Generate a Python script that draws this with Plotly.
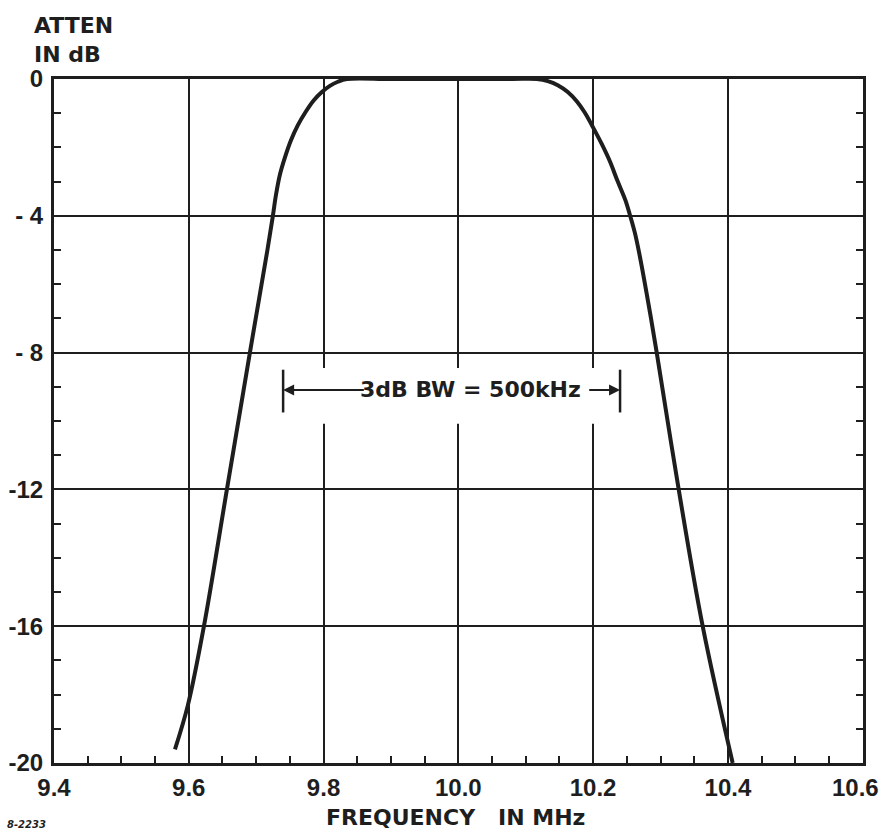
import plotly.graph_objects as go

# Filter passband response: frequency (MHz) vs attenuation (dB)
freq_mhz = [9.5795, 9.5988, 9.6225, 9.6566, 9.6907, 9.7167,
            9.7248, 9.7293, 9.7352, 9.7426, 9.7515, 9.7619, 9.7738,
            9.7856, 9.7975, 9.8094, 9.8212, 9.8346,
            9.90, 10.00, 10.08,
            10.1164, 10.1327, 10.1476, 10.1624, 10.1757, 10.1876, 10.1995,
            10.2128, 10.2247, 10.2366, 10.2480, 10.2550, 10.2620, 10.2685,
            10.2815, 10.2944, 10.3270, 10.3626, 10.4071]
atten_db = [-19.6, -18.3, -16.0, -12.0, -8.0, -5.0,
            -4.0, -3.4, -2.8, -2.3, -1.8, -1.35, -0.95,
            -0.62, -0.38, -0.2, -0.08, 0.0,
            0.0, 0.0, 0.0,
            0.0, -0.06, -0.18, -0.38, -0.65, -0.98, -1.4,
            -1.9, -2.4, -3.0, -3.55, -4.0, -4.5, -5.1,
            -6.5, -8.0, -12.0, -16.0, -20.0]

x_ticks = [9.4, 9.6, 9.8, 10.0, 10.2, 10.4]
x_tick_text = ["9.4", "9.6", "9.8", "10.0", "10.2", "10.4"]
# the right-hand end label sits on its own overlay axis, right-aligned
x_end_tick = [10.6]
x_end_tick_text = ["10.6"]
y_ticks = [0, -4, -8, -12, -16, -20]
y_tick_text = ["0", "- 4", "- 8", "-12", "-16", "-20"]

# 3 dB bandwidth marker
bw_lo, bw_hi = 9.74, 10.24
bw_level = -9.09
bw_label = "3dB BW = 500kHz"

INK = "#1e1e1e"
FONT = "DejaVu Sans"
TICK_FONT = "Liberation Sans"
X_RANGE = [9.4, 10.6005]

fig = go.Figure()
fig.add_trace(go.Scatter(
    x=freq_mhz, y=atten_db, mode="lines",
    line=dict(color=INK, width=4, shape="spline", smoothing=1.0),
    hoverinfo="skip", showlegend=False,
))
# same curve bound to the overlay axis (invisible) so that axis is drawn
fig.add_trace(go.Scatter(
    x=freq_mhz, y=atten_db, mode="lines", xaxis="x2",
    line=dict(color="rgba(0,0,0,0)", width=0),
    hoverinfo="skip", showlegend=False,
))

tick_font = dict(family=TICK_FONT, size=24, color=INK, weight="bold")
axis_common = dict(
    showline=True, linecolor=INK, linewidth=3,
    showgrid=True, gridcolor=INK, gridwidth=1.6,
    zeroline=False, ticks="inside", ticklen=7, tickwidth=2, tickcolor=INK,
    tickfont=tick_font, automargin=False,
)

fig.update_layout(
    width=881, height=835,
    margin=dict(l=54, r=18, t=79, b=72),
    paper_bgcolor="white", plot_bgcolor="white",
    xaxis=dict(
        range=X_RANGE, tickvals=x_ticks + x_end_tick,
        ticktext=x_tick_text + [""],
        mirror=True, ticklabelstandoff=1,
        minor=dict(dtick=0.05, tick0=9.4, ticks="inside", ticklen=7,
                   tickwidth=2, tickcolor=INK, showgrid=False),
        **axis_common,
    ),
    xaxis2=dict(
        range=X_RANGE, overlaying="x", side="bottom", anchor="y",
        tickvals=x_end_tick, ticktext=x_end_tick_text,
        ticklabelposition="outside left", ticklabelshift=16,
        ticklabelstandoff=8, ticks="", showline=False, showgrid=False,
        zeroline=False, tickfont=tick_font, automargin=False,
    ),
    yaxis=dict(
        range=[-20, 0], tickvals=y_ticks, ticktext=y_tick_text,
        mirror="ticks", ticklabelstandoff=3,
        minor=dict(dtick=1, tick0=0, ticks="inside", ticklen=7,
                   tickwidth=2, tickcolor=INK, showgrid=False),
        **axis_common,
    ),
)

# Break in the grid behind the bandwidth label
fig.add_shape(type="rect", xref="x", yref="y",
              x0=bw_lo + 0.015, x1=bw_hi - 0.015, y0=-10.08, y1=-8.45,
              fillcolor="white", line=dict(width=0), layer="above")

# End bars of the bandwidth marker
for xb in (bw_lo, bw_hi):
    fig.add_shape(type="line", xref="x", yref="y",
                  x0=xb, x1=xb, y0=-8.5, y1=-9.75,
                  line=dict(color=INK, width=2.5), layer="above")

# Arrows from the label out to the bars
fig.add_annotation(x=bw_lo, y=bw_level, ax=9.862, ay=bw_level,
                   xref="x", yref="y", axref="x", ayref="y", text="",
                   showarrow=True, arrowhead=2, arrowsize=1.1,
                   arrowwidth=2, arrowcolor=INK)
fig.add_annotation(x=bw_hi, y=bw_level, ax=10.192, ay=bw_level,
                   xref="x", yref="y", axref="x", ayref="y", text="",
                   showarrow=True, arrowhead=2, arrowsize=1.1,
                   arrowwidth=2, arrowcolor=INK)
fig.add_annotation(x=10.018, y=bw_level, xref="x", yref="y",
                   text=bw_label, showarrow=False,
                   font=dict(family=FONT, size=22, color=INK, weight="bold"))

# Axis titles
fig.add_annotation(x=-0.027, y=1.099, xref="paper", yref="paper",
                   text="ATTEN<br>IN dB", showarrow=False, align="left",
                   xanchor="left", yanchor="top",
                   font=dict(family=FONT, size=22, color=INK, weight="bold"))
fig.add_annotation(text="FREQUENCY   IN MHz", showarrow=False,
                   xref="paper", yref="paper", x=0.4957, y=-0.0804,
                   xanchor="center", yanchor="middle",
                   font=dict(family=FONT, size=22, color=INK, weight="bold"))
fig.add_annotation(text="<i>8-2233</i>", showarrow=False,
                   xref="paper", yref="paper", x=-0.061, y=-0.0906,
                   xanchor="left", yanchor="middle",
                   font=dict(family=FONT, size=10, color=INK, weight="bold"))

fig.write_html("out.html")
